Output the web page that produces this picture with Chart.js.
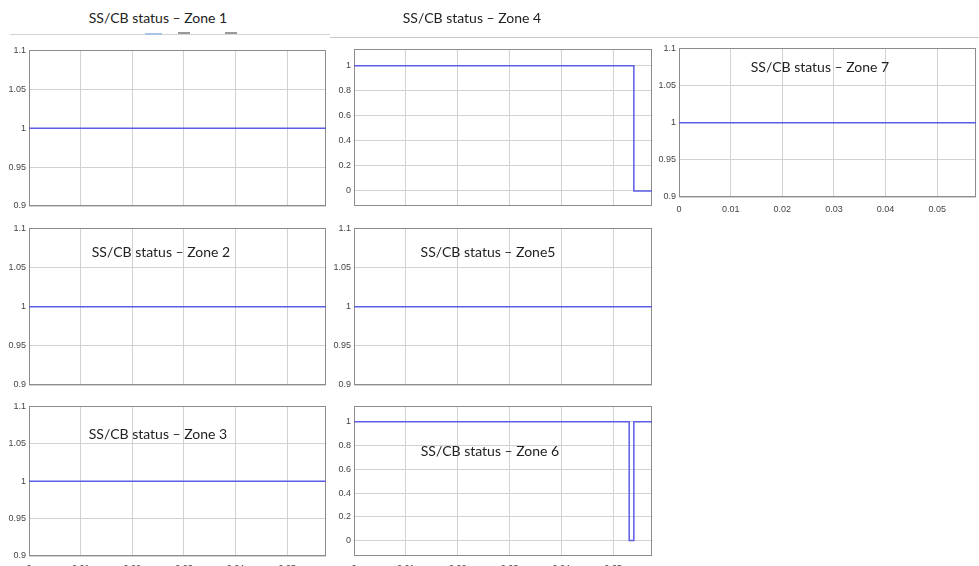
<!DOCTYPE html>
<html>
<head>
<meta charset="utf-8">
<script src="https://cdn.jsdelivr.net/npm/chart.js@4/dist/chart.umd.min.js"></script>
<style>
  html, body { margin: 0; padding: 0; background: #fff; }
  body { width: 979px; height: 566px; position: relative; overflow: hidden; }
  canvas { position: absolute; }
  .ttl { position: absolute; font-family: Lato, "Open Sans", sans-serif; font-size: 14px; color: #222; white-space: nowrap; transform: translate(-50%, -50%); }
  .bar { position: absolute; background: #d4d4d4; height: 1px; }
  .mark { position: absolute; height: 2px; }
</style>
</head>
<body>
<div class="bar" style="left:10px; top:34px; width:320px;"></div>
<div class="bar" style="left:330px; top:37px; width:649px; background:#c8c8c8;"></div>
<div class="mark" style="left:145px; top:33px; width:17px; background:#a9c4e6;"></div>
<div class="mark" style="left:178px; top:32px; width:12px; background:#9a9a9a;"></div>
<div class="mark" style="left:225px; top:32px; width:12px; background:#9a9a9a;"></div>

<script>
// Time axis (seconds) and tick values
const timeTicks = [0, 0.01, 0.02, 0.03, 0.04, 0.05];
const timeMax = 0.0575;
const statusTicksNarrow = [0.9, 0.95, 1, 1.05, 1.1];
const statusTicksWide = [0, 0.2, 0.4, 0.6, 0.8, 1];

// Switching instants and status after each instant (stepped lines)
const zone1Time = [0, 0.0575];           const zone1Status = [1, 1];
const zone2Time = [0, 0.0575];           const zone2Status = [1, 1];
const zone3Time = [0, 0.0575];           const zone3Status = [1, 1];
const zone4Time = [0, 0.054, 0.0575];    const zone4Status = [1, 0, 0];
const zone5Time = [0, 0.0575];           const zone5Status = [1, 1];
const zone6Time = [0, 0.0531, 0.054, 0.0575]; const zone6Status = [1, 0, 1, 1];
const zone7Time = [0, 0.0575];           const zone7Status = [1, 1];

const zoneTitles = ['SS/CB status – Zone 1', 'SS/CB status – Zone 2', 'SS/CB status – Zone 3',
  'SS/CB status – Zone 4', 'SS/CB status – Zone5', 'SS/CB status – Zone 6', 'SS/CB status – Zone 7'];

const LINE = '#5c5ce6';
const GRID = '#d2d2d2';
const FRAME = '#8c8c8c';
const TICKFONT = { family: '"Liberation Sans Narrow", "Liberation Sans", Arial, sans-serif', size: 9 };

const framePlugin = {
  id: 'frame',
  beforeDatasetsDraw(chart) {
    const a = chart.chartArea, ctx = chart.ctx;
    ctx.save();
    ctx.strokeStyle = FRAME;
    ctx.lineWidth = 1;
    ctx.strokeRect(Math.round(a.left) + 0.5, Math.round(a.top) + 0.5,
      Math.round(a.right - a.left) - 1, Math.round(a.bottom - a.top) - 1);
    ctx.restore();
  }
};

const PADL = 34, PADT = 6, PADR = 4, PADB = 22;

function panel(box, t, s, yTicks, yMin, yMax, showX, title, titlePos) {
  const c = document.createElement('canvas');
  const w = box.r - box.l + PADL + PADR;
  const h = box.b - box.t + PADT + PADB;
  c.width = w; c.height = h;
  c.style.left = (box.l - PADL) + 'px';
  c.style.top = (box.t - PADT) + 'px';
  c.style.width = w + 'px'; c.style.height = h + 'px';
  document.body.appendChild(c);

  new Chart(c, {
    type: 'line',
    data: {
      datasets: [{
        data: t.map((x, i) => ({ x, y: s[i] })),
        borderColor: LINE,
        borderWidth: 1.5,
        pointRadius: 0,
        stepped: 'before',
        fill: false
      }]
    },
    options: {
      responsive: false,
      animation: false,
      events: [],
      layout: { padding: { left: 0, top: PADT, right: PADR, bottom: 0 } },
      plugins: { legend: { display: false }, tooltip: { enabled: false }, title: { display: false } },
      scales: {
        x: {
          type: 'linear', min: 0, max: timeMax,
          afterBuildTicks: sc => { sc.ticks = timeTicks.map(v => ({ value: v })); },
          afterFit: sc => { sc.height = PADB; },
          grid: { color: GRID, drawTicks: false, lineWidth: 1 },
          border: { display: false },
          ticks: { display: showX, color: '#444', font: TICKFONT, padding: 7, maxRotation: 0,
                   callback: v => String(v) }
        },
        y: {
          type: 'linear', min: yMin, max: yMax,
          afterBuildTicks: sc => { sc.ticks = yTicks.map(v => ({ value: v })); },
          afterFit: sc => { sc.width = PADL; },
          grid: { color: GRID, drawTicks: false, lineWidth: 1 },
          border: { display: false },
          ticks: { color: '#444', font: TICKFONT, padding: 3, callback: v => String(v) }
        }
      }
    },
    plugins: [framePlugin]
  });

  const d = document.createElement('div');
  d.className = 'ttl';
  d.textContent = title;
  d.style.left = titlePos[0] + 'px';
  d.style.top = titlePos[1] + 'px';
  document.body.appendChild(d);
}

panel({ l: 29, t: 48, r: 326, b: 206 }, zone1Time, zone1Status, statusTicksNarrow, 0.9, 1.1, false, zoneTitles[0], [158, 17]);
panel({ l: 29, t: 226, r: 326, b: 385 }, zone2Time, zone2Status, statusTicksNarrow, 0.9, 1.1, false, zoneTitles[1], [161, 251]);
panel({ l: 29, t: 404, r: 326, b: 556 }, zone3Time, zone3Status, statusTicksNarrow, 0.9, 1.1, true, zoneTitles[2], [158, 433]);
panel({ l: 354, t: 47, r: 652, b: 206 }, zone4Time, zone4Status, statusTicksWide, -0.12, 1.13, false, zoneTitles[3], [472, 17]);
panel({ l: 354, t: 226, r: 652, b: 385 }, zone5Time, zone5Status, statusTicksNarrow, 0.9, 1.1, false, zoneTitles[4], [488, 251]);
panel({ l: 354, t: 404, r: 652, b: 556 }, zone6Time, zone6Status, statusTicksWide, -0.13, 1.13, true, zoneTitles[5], [490, 450]);
panel({ l: 679, t: 46, r: 976, b: 197 }, zone7Time, zone7Status, statusTicksNarrow, 0.9, 1.1, true, zoneTitles[6], [820, 66]);
</script>
</body>
</html>
